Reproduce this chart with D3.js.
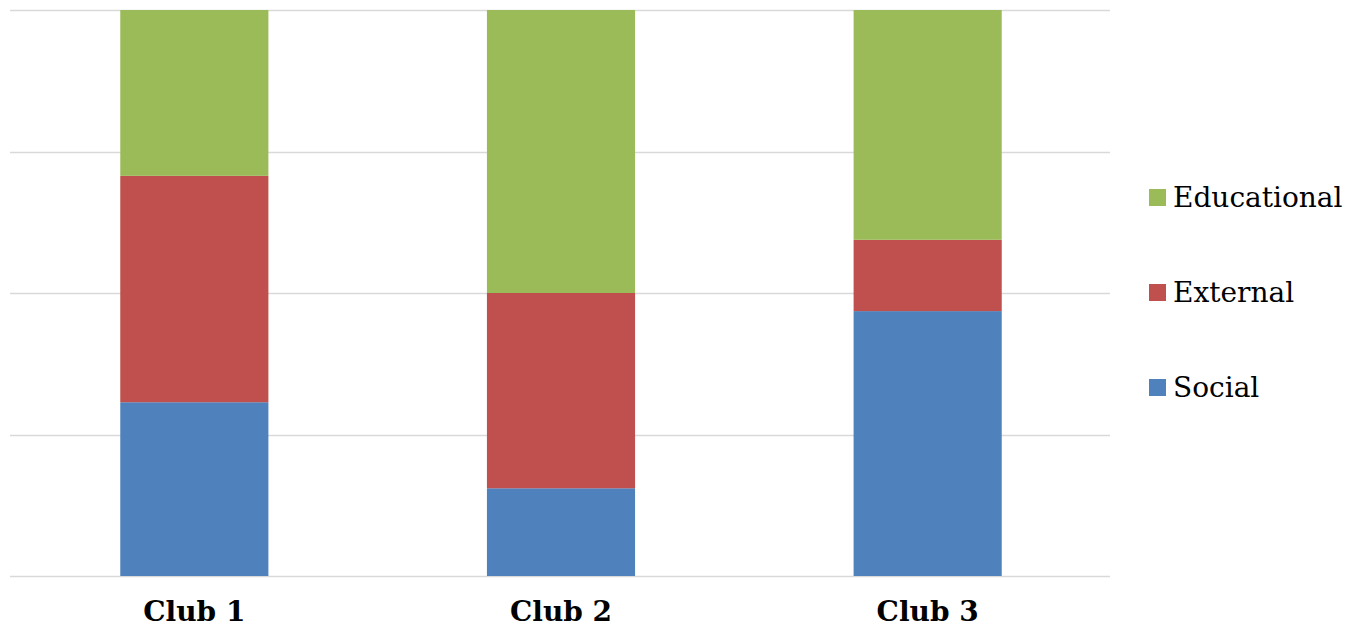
<!DOCTYPE html>
<html><head><meta charset="utf-8">
<script src="https://cdn.jsdelivr.net/npm/d3@7"></script>
<style>body{margin:0;background:#fff;}svg{display:block;}</style>
</head><body>
<svg id="chart" width="1347" height="630"></svg>
<script>
const categories = ["Club 1", "Club 2", "Club 3"];
const seriesNames = ["Social", "External", "Educational"];
const social = [30.7, 15.5, 46.8];
const external = [40.0, 34.5, 12.6];
const educational = [29.3, 50.0, 40.6];
const yTicks = [0, 25, 50, 75, 100];
const colors = ["#4F81BD", "#C0504D", "#9BBB59"];

const svg = d3.select("#chart");
const plotLeft = 11, plotRight = 1111, plotTop = 10, plotBottom = 576;
const x = d3.scaleBand().domain(categories).range([plotLeft, plotRight]).paddingInner(0.596).paddingOuter(0.298);
const y = d3.scaleLinear().domain([0, 100]).range([plotBottom, plotTop]);

svg.append("g").selectAll("line").data(yTicks).join("line")
  .attr("x1", plotLeft - 1).attr("x2", plotRight - 1)
  .attr("y1", d => Math.round(y(d)) + 0.5).attr("y2", d => Math.round(y(d)) + 0.5)
  .attr("stroke", "#d9d9d9").attr("stroke-width", 1.5);

const table = categories.map((c, i) => ({cat: c, Social: social[i], External: external[i], Educational: educational[i]}));
const stacked = d3.stack().keys(seriesNames)(table);

svg.append("g").selectAll("g").data(stacked).join("g")
  .attr("fill", (d, i) => colors[i])
  .selectAll("rect").data(d => d).join("rect")
  .attr("x", d => x(d.data.cat))
  .attr("width", x.bandwidth())
  .attr("y", d => y(d[1]))
  .attr("height", d => y(d[0]) - y(d[1]));

svg.append("g").selectAll("text").data(categories).join("text")
  .attr("x", d => x(d) + x.bandwidth() / 2)
  .attr("y", 621)
  .attr("text-anchor", "middle")
  .attr("font-family", "'DejaVu Serif', serif")
  .attr("font-weight", "bold")
  .attr("font-size", 28)
  .attr("fill", "#000")
  .text(d => d);

const legendItems = ["Educational", "External", "Social"];
const legendColors = ["#9BBB59", "#C0504D", "#4F81BD"];
const lg = svg.append("g").selectAll("g").data(legendItems).join("g")
  .attr("transform", (d, i) => `translate(1149, ${189 + i * 95})`);
lg.append("rect").attr("width", 17).attr("height", 17).attr("fill", (d, i) => legendColors[i]);
lg.append("text").attr("x", 24).attr("y", 18)
  .attr("font-family", "'DejaVu Serif', serif")
  .attr("font-size", 28)
  .attr("fill", "#000")
  .text(d => d);
</script>
</body></html>
